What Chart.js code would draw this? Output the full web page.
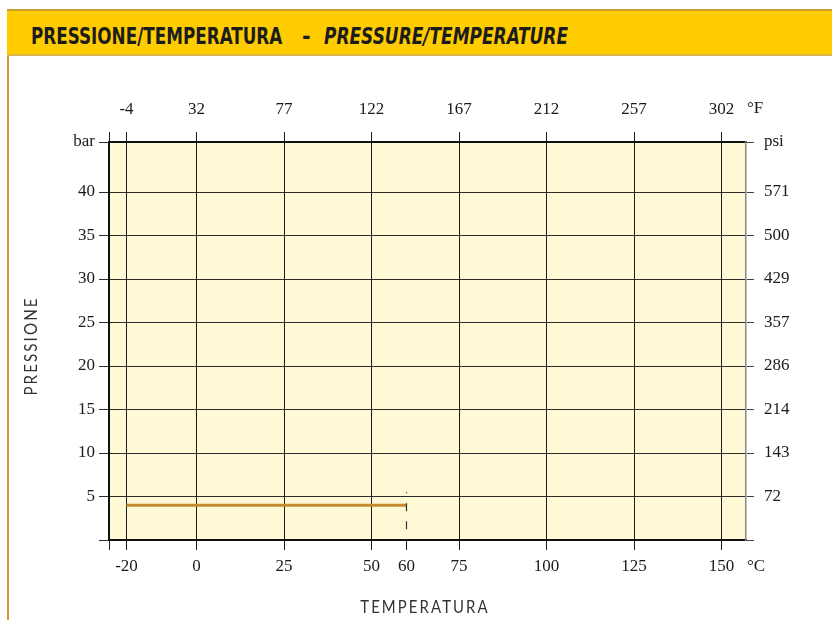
<!DOCTYPE html>
<html>
<head>
<meta charset="utf-8">
<script src="https://cdn.jsdelivr.net/npm/chart.js@4.4.1/dist/chart.umd.min.js"></script>
<style>
  html, body { margin: 0; padding: 0; background: #fff; }
  body { width: 832px; height: 620px; position: relative; overflow: hidden; }
  #frame { position: absolute; left: 7px; top: 9px; width: 2px; height: 620px; background: #c9a032; }
  #header { position: absolute; left: 7px; top: 9px; right: 0; height: 43px;
            background: #ffcc00; border-top: 2px solid #c9a032; border-bottom: 2px solid #dcb447; }
  .ht { position: absolute; top: 14px; font-family: "Liberation Sans Narrow", "DejaVu Sans Condensed", sans-serif;
        font-weight: bold; font-size: 23px; color: #1c1c1c; line-height: 1; white-space: nowrap;
        transform-origin: 0 50%; }
  canvas { position: absolute; left: 0; top: 0; }
</style>
</head>
<body>
<div id="frame"></div>
<div id="header">
  <span class="ht" style="left:24px; transform: scaleX(0.812)">PRESSIONE/TEMPERATURA</span>
  <span class="ht" style="left:295px">-</span>
  <span class="ht" style="left:317px; font-style:italic; transform: scaleX(0.82)">PRESSURE/TEMPERATURE</span>
</div>
<canvas id="ptChart" width="832" height="620"></canvas>
<script>
// axis ranges
const tempRange = [-25, 157];
const barRange = [0, 45.75];

// bottom axis (°C) tick labels
const tempC = [-20, 0, 25, 50, 60, 75, 100, 125, 150];
// top axis (°F) labels, at these °C grid positions
const gridC = [-20, 0, 25, 50, 75, 100, 125, 150];
const tempF = [-4, 32, 77, 122, 167, 212, 257, 302];

// left (bar) and right (psi) tick labels
const pressureBar = [5, 10, 15, 20, 25, 30, 35, 40];
const pressurePsi = [72, 143, 214, 286, 357, 429, 500, 571];

// working line and limit marker
const lineTemp = [-20, 60];
const linePressure = [4, 4];
const limitTemp = [60, 60];
const limitPressure = [5.5, 0];

const tickFont = { family: '"Liberation Serif", "Times New Roman", serif', size: 17 };
const gridColor = '#1e1e1e';

function setTicks(values) {
    return function (scale) {
        scale.ticks = values.map(v => ({ value: v }));
    };
}

const decor = {
    id: 'decor',
    beforeDraw(chart) {
        const a = chart.chartArea;
        const ctx = chart.ctx;
        ctx.save();
        ctx.fillStyle = '#fff9d5';
        ctx.fillRect(a.left, a.top, a.right - a.left, a.bottom - a.top);
        ctx.restore();
    },
    afterDraw(chart) {
        const a = chart.chartArea;
        const ctx = chart.ctx;
        ctx.save();
        ctx.fillStyle = '#1a1a1a';
        ctx.font = '17px "Liberation Serif", serif';
        ctx.textAlign = 'left';
        ctx.textBaseline = 'alphabetic';
        ctx.fillText('°F', a.right + 1, 113);
        ctx.fillText('°C', a.right + 1, 571);

        // axis titles, letter-spaced and narrowed
        ctx.fillStyle = '#333';
        ctx.font = '18px Lato, "Open Sans", sans-serif';
        ctx.letterSpacing = '2.5px';
        ctx.textAlign = 'center';
        ctx.textBaseline = 'middle';
        ctx.save();
        ctx.translate(425, 607);
        ctx.scale(0.83, 1);
        ctx.fillText('TEMPERATURA', 0, 0);
        ctx.restore();
        ctx.translate(31, 346);
        ctx.rotate(-Math.PI / 2);
        ctx.scale(0.84, 1);
        ctx.fillText('PRESSIONE', 0, 0);
        ctx.restore();
    }
};

var ctx = document.getElementById('ptChart').getContext('2d');
var ptChart = new Chart(ctx, {
    type: 'scatter',
    data: {
        datasets: [{
            label: 'limit',
            data: limitTemp.map((t, i) => ({ x: t, y: limitPressure[i] })),
            showLine: true,
            borderColor: '#333',
            borderWidth: 1.2,
            borderDash: [8, 10],
            borderDashOffset: 7,
            pointRadius: 0,
            xAxisID: 'x',
            yAxisID: 'y'
        }, {
            label: 'pressure',
            data: lineTemp.map((t, i) => ({ x: t, y: linePressure[i] })),
            showLine: true,
            borderColor: '#c48b2f',
            borderWidth: 3,
            pointRadius: 0,
            xAxisID: 'x',
            yAxisID: 'y'
        }]
    },
    options: {
        responsive: false,
        animation: false,
        devicePixelRatio: 1,
        layout: { padding: 0 },
        plugins: {
            legend: { display: false },
            tooltip: { enabled: false }
        },
        scales: {
            x: {
                type: 'linear',
                position: 'bottom',
                min: tempRange[0],
                max: tempRange[1],
                afterBuildTicks: setTicks([tempRange[0]].concat(tempC)),
                afterFit: s => { s.height = 80; },
                ticks: {
                    autoSkip: false, maxRotation: 0, minRotation: 0,
                    padding: 6, color: '#1a1a1a', font: tickFont,
                    callback: v => v === tempRange[0] ? '' : v
                },
                grid: { drawOnChartArea: false, tickLength: 10, color: gridColor },
                border: { color: '#111', width: 2 }
            },
            xTop: {
                type: 'linear',
                position: 'top',
                min: tempRange[0],
                max: tempRange[1],
                afterBuildTicks: setTicks([tempRange[0]].concat(gridC)),
                afterFit: s => { s.height = 142; },
                ticks: {
                    autoSkip: false, maxRotation: 0, minRotation: 0,
                    padding: 12, color: '#1a1a1a', font: tickFont,
                    callback: v => { const i = gridC.indexOf(v); return i >= 0 ? tempF[i] : ''; }
                },
                grid: { drawOnChartArea: true, tickLength: 10, color: gridColor },
                border: { color: '#111', width: 2 }
            },
            y: {
                type: 'linear',
                position: 'left',
                min: barRange[0],
                max: barRange[1],
                afterBuildTicks: setTicks([0].concat(pressureBar, [barRange[1]])),
                afterFit: s => { s.width = 109; },
                ticks: {
                    autoSkip: false, padding: 4, color: '#1a1a1a', font: tickFont,
                    callback: v => v === barRange[1] ? 'bar' : (v === 0 ? '' : v)
                },
                grid: { drawOnChartArea: true, tickLength: 10, color: '#2a2a2a' },
                border: { color: '#111', width: 2 }
            },
            yRight: {
                type: 'linear',
                position: 'right',
                min: barRange[0],
                max: barRange[1],
                afterBuildTicks: setTicks([0].concat(pressureBar, [barRange[1]])),
                afterFit: s => { s.width = 86; },
                ticks: {
                    autoSkip: false, padding: 10, color: '#1a1a1a', font: tickFont,
                    callback: v => {
                        if (v === barRange[1]) return 'psi';
                        const i = pressureBar.indexOf(v);
                        return i >= 0 ? pressurePsi[i] : '';
                    }
                },
                grid: { drawOnChartArea: false, tickLength: 8, color: '#444' },
                border: { color: '#888', width: 1.5 }
            }
        }
    },
    plugins: [decor]
});
</script>
</body>
</html>
